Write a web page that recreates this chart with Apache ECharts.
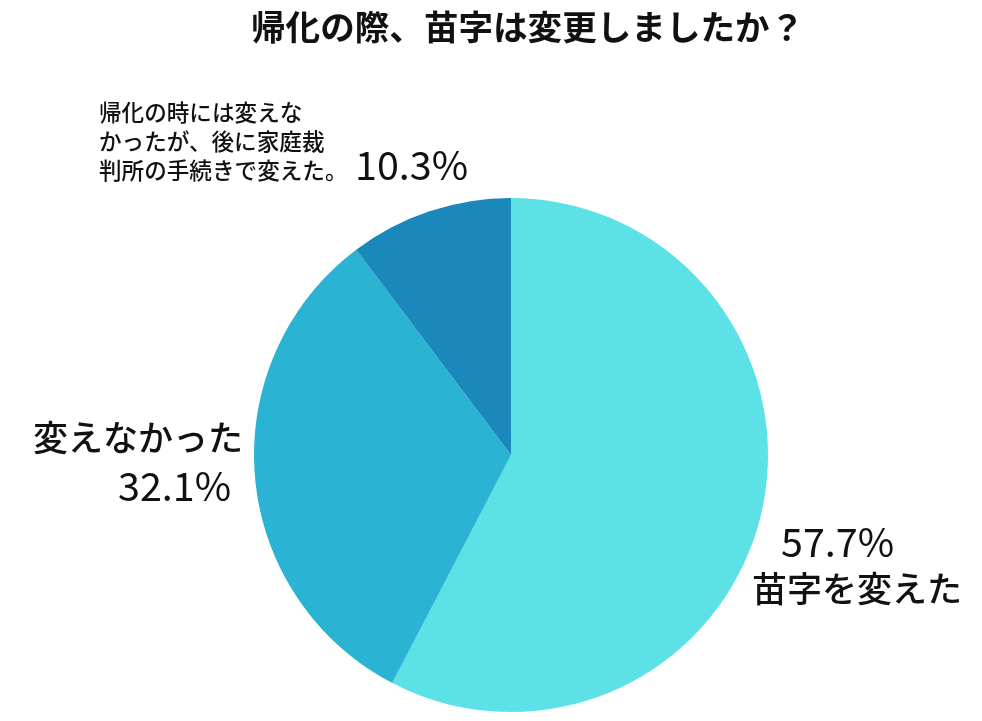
<!DOCTYPE html>
<html><head><meta charset="utf-8">
<script src="https://cdn.jsdelivr.net/npm/echarts@6/dist/echarts.min.js"></script>
<style>html,body{margin:0;padding:0;background:#fff}#c{width:982px;height:721px}</style>
</head><body><div id="c"></div>
<script>
const titleText = '帰化の際、苗字は変更しましたか？';
const categories = ['苗字を変えた', '変えなかった', '帰化の時には変えな\nかったが、後に家庭裁\n判所の手続きで変えた。'];
const values = [57.7, 32.1, 10.3];
const percentLabels = ['57.7%', '32.1%', '10.3%'];
const colors = ['#5ce1e6', '#2bb3d4', '#1a88bb'];

const chart = echarts.init(document.getElementById('c'));
const F = '"Noto Sans CJK JP", "Noto Sans", sans-serif';
const big = {fontFamily: F, fontSize: 35, fontWeight: 500, fill: '#111'};
const pct = {fontFamily: F, fontSize: 39.5, fontWeight: 400, fill: '#111'};
chart.setOption({
  backgroundColor: '#fff',
  title: {
    text: titleText, left: 246, top: 5,
    textStyle: {fontFamily: F, fontSize: 34.6, fontWeight: 'bold', color: '#111'}
  },
  series: [{
    type: 'pie',
    center: [511, 455],
    radius: [0, 257],
    startAngle: 90,
    clockwise: true,
    label: {show: false},
    labelLine: {show: false},
    itemStyle: {borderWidth: 0},
    emphasis: {disabled: true},
    animation: false,
    data: categories.map((c, i) => ({name: c, value: values[i], itemStyle: {color: colors[i]}}))
  }],
  graphic: [
    {type: 'text', left: 781, top: 522, style: Object.assign({text: percentLabels[0]}, pct)},
    {type: 'text', left: 752, top: 571, style: Object.assign({text: categories[0]}, big)},
    {type: 'text', left: 33, top: 420, style: Object.assign({text: categories[1]}, big)},
    {type: 'text', left: 118, top: 466, style: Object.assign({text: percentLabels[1]}, pct)},
    {type: 'text', left: 99, top: 98, style: {text: categories[2], fontFamily: F, fontSize: 22.6, fontWeight: 500, fill: '#111', lineHeight: 29}},
    {type: 'text', left: 355, top: 145, style: Object.assign({text: percentLabels[2]}, pct)}
  ]
});
</script></body></html>
